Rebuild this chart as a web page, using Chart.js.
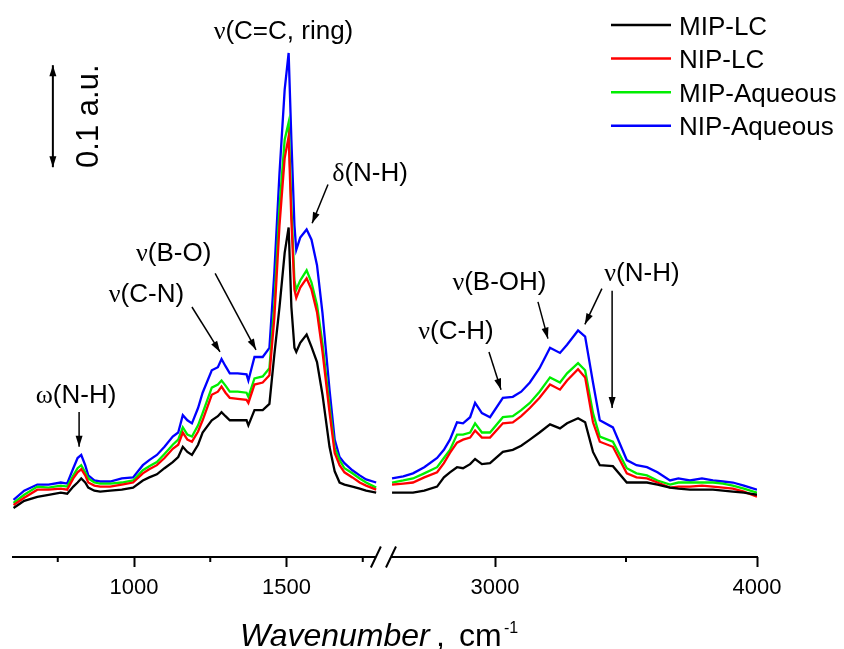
<!DOCTYPE html>
<html>
<head>
<meta charset="utf-8">
<title>FTIR spectra</title>
<script src="https://cdn.jsdelivr.net/npm/chart.js@4.4.0/dist/chart.umd.min.js"></script>
<style>
  html, body { margin: 0; padding: 0; background: #fff; }
  #wrap { width: 844px; height: 649px; }
</style>
</head>
<body>
<div id="wrap"><canvas id="spectra" width="844" height="649"></canvas></div>
<script>
// Wavenumbers (cm-1): left segment 600-1800, right segment 2600-4000
const wavenumbers = [
  605, 640, 683, 720, 760, 781, 801, 815, 827, 840, 850, 870, 889, 922, 960, 997,
  1029, 1050, 1075, 1100, 1127, 1145, 1160, 1175, 1190, 1210, 1225, 1255, 1275, 1287,
  1300, 1314, 1340, 1369, 1375, 1395, 1422, 1444, 1460, 1477, 1494, 1507, 1516, 1526,
  1532, 1545, 1566, 1582, 1600, 1618, 1641, 1658, 1674, 1690, 1716, 1740, 1761, 1794,
  2607, 2650, 2687, 2730, 2779, 2805, 2828, 2855, 2878, 2905, 2924, 2950, 2981, 3030,
  3068, 3100, 3133, 3170, 3210, 3248, 3275, 3317, 3344, 3374, 3400, 3450, 3503, 3540,
  3580, 3620, 3668, 3700, 3744, 3790, 3832, 3870, 3908, 3950, 4000
];

// Absorbance (a.u.)
const mipLC = [
  .048, .055, .059, .061, .063, .062, .069, .073, .077, .073, .068, .065, .064, .065, .066, .068,
  .075, .078, .081, .087, .093, .098, .108, .103, .100, .110, .122, .134, .138, .142,
  .138, .134, .134, .134, .129, .144, .144, .150, .198, .245, .298, .323, .245, .205,
  .201, .210, .218, .206, .191, .159, .108, .084, .073, .071, .069, .067, .065, .063,
  .063, .063, .063, .065, .069, .078, .083, .088, .087, .091, .096, .091, .092, .103,
  .105, .109, .115, .122, .130, .126, .131, .136, .132, .103, .090, .089, .073, .073,
  .073, .071, .068, .067, .066, .066, .066, .065, .064, .063, .061
];
const nipLC = [
  .051, .058, .066, .066, .067, .066, .077, .083, .086, .080, .073, .070, .069, .069, .071, .073,
  .082, .086, .090, .097, .106, .110, .122, .115, .113, .123, .134, .159, .162, .167,
  .161, .156, .155, .154, .151, .169, .171, .178, .234, .325, .391, .412, .330, .262,
  .254, .264, .273, .262, .240, .201, .142, .102, .090, .083, .078, .073, .070, .066,
  .071, .072, .073, .078, .083, .092, .102, .112, .115, .117, .124, .117, .117, .131,
  .132, .138, .146, .156, .169, .164, .173, .184, .176, .132, .113, .108, .082, .078,
  .077, .073, .068, .069, .069, .070, .069, .068, .067, .064, .059
];
const mipAqueous = [
  .053, .061, .069, .068, .070, .069, .080, .087, .090, .083, .077, .073, .072, .072, .073, .075,
  .085, .089, .093, .101, .110, .115, .127, .120, .118, .129, .141, .166, .169, .173,
  .168, .162, .162, .161, .157, .175, .177, .185, .247, .343, .409, .426, .343, .271,
  .262, .271, .281, .269, .247, .209, .148, .107, .095, .087, .082, .077, .073, .068,
  .073, .075, .077, .082, .088, .097, .105, .120, .120, .122, .131, .122, .122, .137,
  .138, .144, .151, .162, .176, .171, .180, .190, .183, .141, .118, .113, .087, .082,
  .080, .075, .071, .073, .073, .073, .073, .072, .070, .067, .063
];
const nipAqueous = [
  .056, .065, .071, .071, .073, .072, .087, .097, .100, .090, .080, .075, .074, .074, .077, .078,
  .090, .095, .100, .108, .118, .122, .139, .134, .131, .146, .161, .183, .186, .194,
  .187, .180, .180, .179, .173, .196, .196, .205, .278, .376, .458, .494, .409, .325,
  .301, .313, .321, .311, .286, .239, .164, .115, .098, .092, .085, .080, .076, .073,
  .077, .079, .082, .088, .097, .105, .115, .132, .131, .137, .151, .141, .137, .156,
  .157, .162, .171, .185, .205, .200, .208, .222, .216, .171, .134, .127, .095, .090,
  .088, .083, .075, .077, .075, .077, .075, .074, .073, .070, .066
];

const seriesNames = ['MIP-LC', 'NIP-LC', 'MIP-Aqueous', 'NIP-Aqueous'];
const seriesColors = ['#000000', '#ff0000', '#00ee00', '#0000ff'];

const tickWavenumbers = [750, 1000, 1250, 1500, 1750, 3000, 3500, 4000];
const tickLabels = ['', '1000', '', '1500', '', '3000', '', '4000'];

// broken axis: the right part is squeezed a little
const LEFT_MIN = 600, LEFT_MAX = 1800;
const RIGHT_MIN = 2600, RIGHT_MAX = 4000;
const RIGHT_START = 1840, RIGHT_RATIO = 0.859;
const BREAK_LEFT = 1793, BREAK_RIGHT = 2603;

function axisPos(wn) {
  return wn <= LEFT_MAX ? wn : RIGHT_START + (wn - RIGHT_MIN) * RIGHT_RATIO;
}

// band assignments, anchored in (wavenumber, a.u.)
const bands = [
  { text: '(N-H)', greek: 'ω', at: [810, 0.157], arrow: [[820, 0.142], [820, 0.108]] },
  { text: '(C-N)', greek: 'ν', at: [1041, 0.256], arrow: [[1190, 0.245], [1282, 0.201]] },
  { text: '(B-O)', greek: 'ν', at: [1130, 0.296], arrow: [[1266, 0.278], [1400, 0.203]] },
  { text: '(C=C, ring)', greek: 'ν', at: [1490, 0.514], arrow: null },
  { text: '(N-H)', greek: 'δ', at: [1774, 0.374], arrow: [[1636, 0.365], [1584, 0.327]] },
  { text: '(C-H)', greek: 'ν', at: [2851, 0.220], arrow: [[2977, 0.201], [3023, 0.164]] },
  { text: '(B-OH)', greek: 'ν', at: [3017, 0.268], arrow: [[3164, 0.250], [3202, 0.214]] },
  { text: '(N-H)', greek: 'ν', at: [3561, 0.276], arrow: [[3408, 0.263], [3343, 0.228]] },
  { text: '', greek: '', at: null, arrow: [[3447, 0.261], [3447, 0.146]] }
];
const scaleBar = { wn: 734, from: 0.382, to: 0.482, label: '0.1 a.u.', labelWn: 882 };

const SANS = "'Liberation Sans', Arial, sans-serif";
const SERIF = "'Liberation Serif', 'Times New Roman', serif";

function toPoints(values) {
  const pts = [];
  wavenumbers.forEach((w, i) => {
    if (i > 0 && wavenumbers[i - 1] <= LEFT_MAX && w >= RIGHT_MIN) {
      pts.push({ x: axisPos(LEFT_MAX) + 1, y: null });
    }
    pts.push({ x: axisPos(w), y: values[i] });
  });
  return pts;
}

function arrowHead(ctx, x1, y1, x2, y2, len, half) {
  const a = Math.atan2(y2 - y1, x2 - x1);
  ctx.beginPath();
  ctx.moveTo(x2, y2);
  ctx.lineTo(x2 - len * Math.cos(a) + half * Math.sin(a), y2 - len * Math.sin(a) - half * Math.cos(a));
  ctx.lineTo(x2 - len * Math.cos(a) - half * Math.sin(a), y2 - len * Math.sin(a) + half * Math.cos(a));
  ctx.closePath();
  ctx.fill();
}

function drawArrow(ctx, x1, y1, x2, y2, both) {
  ctx.beginPath();
  ctx.moveTo(x1, y1);
  ctx.lineTo(x2, y2);
  ctx.stroke();
  arrowHead(ctx, x1, y1, x2, y2, 11, 3.5);
  if (both) arrowHead(ctx, x2, y2, x1, y1, 11, 3.5);
}

const decorations = {
  id: 'decorations',
  afterDraw(chart) {
    const { ctx, chartArea, scales: { x, y } } = chart;
    const base = chartArea.bottom;
    ctx.save();
    ctx.strokeStyle = '#000';
    ctx.fillStyle = '#000';

    // axis line with break, minor ticks
    ctx.lineWidth = 2;
    const xl = x.getPixelForValue(axisPos(BREAK_LEFT));
    const xr = x.getPixelForValue(axisPos(BREAK_RIGHT));
    ctx.beginPath();
    ctx.moveTo(chartArea.left, base);
    ctx.lineTo(xl, base);
    ctx.moveTo(xr, base);
    ctx.lineTo(chartArea.right + 1, base);
    [xl, xr].forEach(px => {
      ctx.moveTo(px - 5, base + 10.5);
      ctx.lineTo(px + 5, base - 10.5);
    });
    tickWavenumbers.forEach((w, i) => {
      if (tickLabels[i]) return;
      const px = x.getPixelForValue(axisPos(w));
      ctx.moveTo(px, base);
      ctx.lineTo(px, base + 5);
    });
    ctx.stroke();

    // axis title
    ctx.textBaseline = 'alphabetic';
    ctx.textAlign = 'left';
    ctx.font = 'italic 32px ' + SANS;
    ctx.fillText('Wavenumber', 240, 646);
    ctx.font = '32px ' + SANS;
    ctx.fillText(',', 436, 646);
    ctx.fillText('cm', 459, 646);
    ctx.font = '16px ' + SANS;
    ctx.fillText('-1', 504, 633);

    // band labels and arrows
    ctx.lineWidth = 1.5;
    bands.forEach(b => {
      if (b.at) {
        const cx = x.getPixelForValue(axisPos(b.at[0]));
        const cy = y.getPixelForValue(b.at[1]) + 6;
        ctx.font = '26px ' + SERIF;
        const gw = ctx.measureText(b.greek).width;
        ctx.font = '26px ' + SANS;
        const tw = ctx.measureText(b.text).width;
        const left = cx - (gw + tw) / 2;
        ctx.font = '26px ' + SERIF;
        ctx.fillText(b.greek, left, cy);
        ctx.font = '26px ' + SANS;
        ctx.fillText(b.text, left + gw, cy);
      }
      if (b.arrow) {
        const [p, q] = b.arrow;
        drawArrow(ctx,
          x.getPixelForValue(axisPos(p[0])), y.getPixelForValue(p[1]),
          x.getPixelForValue(axisPos(q[0])), y.getPixelForValue(q[1]), false);
      }
    });

    // 0.1 a.u. scale bar
    ctx.lineWidth = 2;
    const sx = x.getPixelForValue(axisPos(scaleBar.wn));
    const y0 = y.getPixelForValue(scaleBar.from);
    const y1 = y.getPixelForValue(scaleBar.to);
    drawArrow(ctx, sx, y0, sx, y1, true);
    ctx.save();
    ctx.translate(x.getPixelForValue(axisPos(scaleBar.labelWn)), (y0 + y1) / 2);
    ctx.rotate(-Math.PI / 2);
    ctx.textAlign = 'center';
    ctx.font = '31px ' + SANS;
    ctx.fillText(scaleBar.label, 0, 0);
    ctx.restore();

    // legend
    ctx.font = '26px ' + SANS;
    ctx.textAlign = 'left';
    ctx.lineWidth = 2.5;
    seriesNames.forEach((name, i) => {
      const ly = 25 + i * 33.6;
      ctx.strokeStyle = seriesColors[i];
      ctx.beginPath();
      ctx.moveTo(611, ly);
      ctx.lineTo(671, ly);
      ctx.stroke();
      ctx.fillText(name, 679, ly + 9.5);
    });
    ctx.restore();
  }
};

new Chart(document.getElementById('spectra'), {
  type: 'line',
  data: {
    datasets: [mipLC, nipLC, mipAqueous, nipAqueous].map((values, i) => ({
      label: seriesNames[i],
      data: toPoints(values),
      borderColor: seriesColors[i],
      borderWidth: 2.3,
      pointRadius: 0,
      tension: 0,
      fill: false,
      spanGaps: false
    }))
  },
  options: {
    responsive: false,
    animation: false,
    layout: { padding: { left: 12, right: 87, top: 6, bottom: 0 } },
    plugins: { legend: { display: false }, tooltip: { enabled: false } },
    scales: {
      x: {
        type: 'linear',
        min: LEFT_MIN,
        max: axisPos(RIGHT_MAX),
        afterBuildTicks: scale => {
          scale.ticks = tickWavenumbers.map(w => ({ value: axisPos(w) }));
        },
        afterFit: scale => { scale.height = 92; },
        border: { display: false },
        grid: {
          drawOnChartArea: false,
          tickLength: 10,
          tickWidth: 2,
          tickColor: c => tickLabels[c.index] ? '#000' : 'rgba(0,0,0,0)'
        },
        ticks: {
          autoSkip: false,
          maxRotation: 0,
          minRotation: 0,
          padding: 8,
          color: '#000',
          font: { family: SANS, size: 22 },
          callback: (value, index) => tickLabels[index]
        }
      },
      y: { display: false, min: 0, max: 0.54 }
    }
  },
  plugins: [decorations]
});
</script>
</body>
</html>
